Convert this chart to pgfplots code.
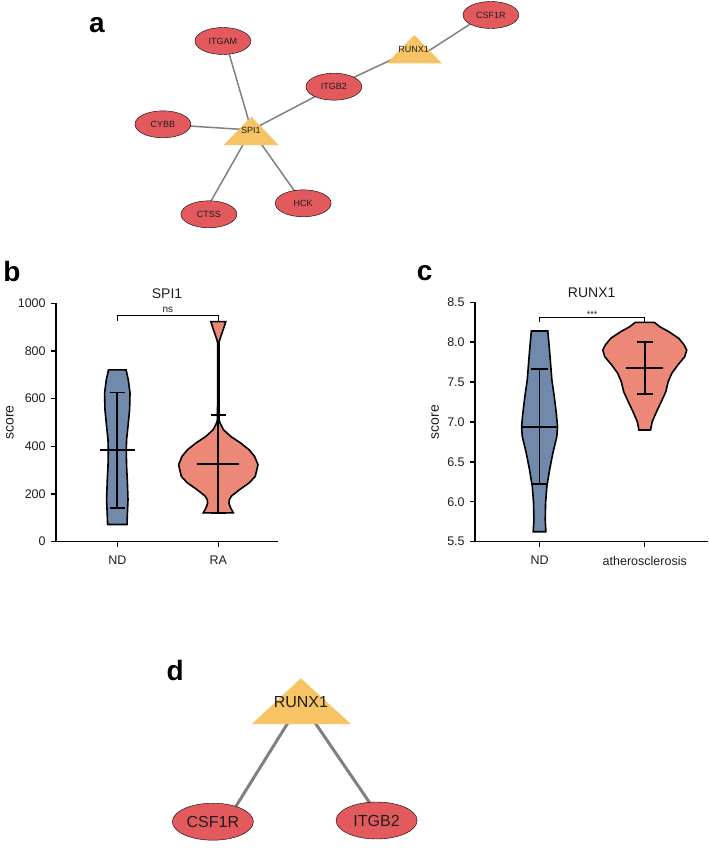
\documentclass[border=0pt]{standalone}
\usepackage{pgfplots}
\pgfplotsset{compat=1.18}
\usepackage{fontspec}
\setmainfont{Liberation Sans}
\definecolor{ell}{RGB}{227,90,94}
\definecolor{tri}{RGB}{246,196,100}
\definecolor{vblue}{RGB}{113,137,170}
\definecolor{vred}{RGB}{236,136,120}
\definecolor{edgec}{RGB}{128,128,128}
\definecolor{txt}{RGB}{30,30,30}
\pgfplotsset{
  netaxis/.style={at={(O)},anchor=south west,scale only axis,width=707pt,height=851pt,
    xmin=0,xmax=707,ymin=0,ymax=851,y dir=reverse,hide axis,clip=false},
  violin/.style={scale only axis,anchor=south west,axis lines*=left,
    axis line style={line width=1.5pt,black},tick align=outside,major tick length=5pt,
    tick style={black,line width=1.4pt},
    tick label style={font=\fontsize{12.5}{14}\selectfont,text=txt},
    xticklabel style={yshift=-6pt},yticklabel style={xshift=-2pt},clip=false},
  vline/.style={black,line width=1.7pt},
  vbody/.style={draw=black,line width=1.6pt},
}
\begin{document}
\begin{tikzpicture}[x=1pt,y=1pt]
\path (0,0) rectangle (707,851);
\coordinate (O) at (0,0);
\coordinate (B) at (54.3,309.3);
\coordinate (C) at (473.3,309.3);
% ---------------- network panels a and d ----------------
\begin{axis}[netaxis]
% edges panel a
\addplot[edgec,line width=1.5pt] coordinates {(249.5,130) (225,46)};
\addplot[edgec,line width=1.5pt] coordinates {(249.5,130) (161,124.3)};
\addplot[edgec,line width=1.5pt] coordinates {(249.5,130) (204,210)};
\addplot[edgec,line width=1.5pt] coordinates {(249.5,130) (301.3,203.3)};
\addplot[edgec,line width=1.5pt] coordinates {(249.5,130) (332,86.7)};
\addplot[edgec,line width=1.5pt] coordinates {(332,86.7) (412.5,49)};
\addplot[edgec,line width=1.5pt] coordinates {(425,52) (480,16.5)};
% edges panel d
\addplot[edgec,line width=3pt] coordinates {(299,702) (233,808)};
\addplot[edgec,line width=3pt] coordinates {(299,702) (370,806)};
% triangles
\addplot[fill=tri,draw=none] coordinates {(221.7,145) (249.5,116.7) (276.7,145)} --cycle;
\addplot[fill=tri,draw=none] coordinates {(385,63.3) (412.5,35) (440,63.3)} --cycle;
\addplot[fill=tri,draw=none] coordinates {(250,724) (299,678.3) (349,724)} --cycle;
% ellipses panel a
\addplot[only marks,mark=*,mark size=13.5pt,mark options={xscale=2.07,fill=ell,draw=none}]
  coordinates {(221,41) (489,15) (332,86.7) (161,124.3) (207,214.3) (301.3,203.3)};
% ellipses panel d
\addplot[only marks,mark=*,mark size=18.5pt,mark options={xscale=2.19,fill=ell,draw=none}]
  coordinates {(211,821.7) (374.7,820.5)};
\end{axis}
% labels on top of the network shapes
\begin{axis}[netaxis]
\begin{scope}[every node/.style={font=\fontsize{9}{10}\selectfont,text=txt}]
\node at (axis cs:221,41) {ITGAM};
\node at (axis cs:489,15) {CSF1R};
\node at (axis cs:332,86.7) {ITGB2};
\node at (axis cs:161,124.3) {CYBB};
\node at (axis cs:207,214.3) {CTSS};
\node at (axis cs:301.3,203.3) {HCK};
\node at (axis cs:249,130) {SPI1};
\node at (axis cs:411.7,49) {RUNX1};
\end{scope}
\begin{scope}[every node/.style={font=\fontsize{16}{18}\selectfont,text=txt}]
\node at (axis cs:299,701.7) {RUNX1};
\node at (axis cs:211,821.7) {CSF1R};
\node at (axis cs:374.7,820.5) {ITGB2};
\end{scope}
\begin{scope}[every node/.style={font=\fontsize{28}{30}\selectfont\bfseries}]
\node at (axis cs:95,25) {a};
\node at (axis cs:10,271.7) {b};
\node at (axis cs:422.7,273.3) {c};
\node at (axis cs:173.3,670) {d};
\end{scope}
\end{axis}
% ---------------- panel b ----------------
\begin{axis}[violin,at={(B)},width=221.7pt,height=238.4pt,
  xmin=-0.605,xmax=1.59,ymin=0,ymax=1000,
  xtick={0,1},xticklabels={ND,RA},
  ytick={0,200,400,600,800,1000},yticklabels={0,200,400,600,800,1000}]
\addplot[fill=vblue,vbody] coordinates {
(0.087,721) (0.109,679) (0.126,623) (0.122,554) (0.106,484) (0.092,428) (0.089,386)
(0.092,316) (0.099,261) (0.106,177) (0.099,107) (0.096,72)
(-0.096,72) (-0.099,107) (-0.106,177) (-0.099,261) (-0.092,316) (-0.089,386)
(-0.092,428) (-0.106,484) (-0.122,554) (-0.126,623) (-0.109,679) (-0.087,721)} --cycle;
\addplot[fill=vred,vbody] coordinates {
(1.074,923) (1.047,888) (1.013,846) (1.007,834) (1.007,700) (1.007,600) (1.008,512)
(1.017,498) (1.050,470) (1.122,442) (1.221,414) (1.304,386) (1.359,358) (1.393,323)
(1.366,274) (1.307,247) (1.213,219) (1.129,191) (1.109,175) (1.106,160) (1.124,140) (1.149,121)
(0.851,121) (0.876,140) (0.894,160) (0.891,175) (0.871,191) (0.787,219) (0.693,247) (0.634,274)
(0.607,323) (0.641,358) (0.696,386) (0.779,414) (0.878,442) (0.950,470) (0.983,498)
(0.992,512) (0.993,600) (0.993,700) (0.993,834) (0.987,846) (0.953,888) (0.926,923)} --cycle;
% ND summary
\addplot[vline] coordinates {(0,626) (0,142)};
\addplot[vline] coordinates {(-0.073,626) (0.073,626)};
\addplot[vline] coordinates {(-0.073,142) (0.073,142)};
\addplot[vline] coordinates {(-0.176,386) (0.176,386)};
% RA summary
\addplot[vline] coordinates {(1,531) (1,121)};
\addplot[vline] coordinates {(0.927,531) (1.073,531)};
\addplot[vline] coordinates {(0.927,121) (1.073,121)};
\addplot[vline] coordinates {(0.792,325) (1.208,325)};
% bracket
\addplot[black,line width=1.4pt] coordinates {(0,927) (0,948) (1,948) (1,927)};
\node[font=\fontsize{10}{12}\selectfont,text=txt] at (axis cs:0.5,972) {ns};
\node[font=\fontsize{14}{16}\selectfont,text=txt,anchor=base] at (rel axis cs:0.5,1) [yshift=5pt] {SPI1};
\node[xshift=-46.3pt,rotate=90,font=\fontsize{14}{16}\selectfont,text=txt] at (rel axis cs:0,0.5) {score};
\end{axis}
% ---------------- panel c ----------------
\begin{axis}[violin,at={(C)},width=233pt,height=239.4pt,
  xmin=-0.612,xmax=1.603,ymin=5.5,ymax=8.5,
  xtick={0,1},xticklabels={ND,atherosclerosis},
  ytick={5.5,6,6.5,7,7.5,8,8.5},yticklabels={5.5,6.0,6.5,7.0,7.5,8.0,8.5}]
\addplot[fill=vblue,vbody] coordinates {
(0.078,8.140) (0.086,8.029) (0.102,7.778) (0.117,7.527) (0.140,7.317) (0.159,7.109)
(0.171,6.941) (0.164,6.816) (0.126,6.608) (0.095,6.398) (0.069,6.189) (0.057,5.981)
(0.054,5.772) (0.060,5.625)
(-0.060,5.625) (-0.054,5.772) (-0.057,5.981) (-0.069,6.189) (-0.095,6.398) (-0.126,6.608)
(-0.164,6.816) (-0.171,6.941) (-0.159,7.109) (-0.140,7.317) (-0.117,7.527) (-0.102,7.778)
(-0.086,8.029) (-0.078,8.140)} --cycle;
\addplot[fill=vred,vbody] coordinates {
(1.090,8.249) (1.143,8.194) (1.228,8.132) (1.323,8.049) (1.375,7.965) (1.399,7.902)
(1.380,7.818) (1.314,7.714) (1.257,7.610) (1.223,7.505) (1.200,7.380) (1.157,7.254)
(1.112,7.129) (1.071,7.004) (1.055,6.900)
(0.945,6.900) (0.929,7.004) (0.888,7.129) (0.843,7.254) (0.800,7.380) (0.777,7.505)
(0.743,7.610) (0.686,7.714) (0.620,7.818) (0.601,7.902) (0.625,7.965) (0.677,8.049)
(0.772,8.132) (0.857,8.194) (0.910,8.249)} --cycle;
% ND summary
\addplot[vline] coordinates {(0,7.664) (0,6.223)};
\addplot[vline] coordinates {(-0.078,7.664) (0.078,7.664)};
\addplot[vline] coordinates {(-0.078,6.223) (0.078,6.223)};
\addplot[vline] coordinates {(-0.173,6.941) (0.173,6.941)};
% atherosclerosis summary
\addplot[vline] coordinates {(1,8.006) (1,7.347)};
\addplot[vline] coordinates {(0.922,8.006) (1.078,8.006)};
\addplot[vline] coordinates {(0.922,7.347) (1.078,7.347)};
\addplot[vline] coordinates {(0.826,7.673) (1.174,7.673)};
% bracket
\addplot[black,line width=1.4pt] coordinates {(0,8.257) (0,8.312) (1,8.312) (1,8.257)};
\node[font=\fontsize{9}{11}\selectfont,text=txt] at (axis cs:0.5,8.347) {***};
\node[font=\fontsize{14}{16}\selectfont,text=txt,anchor=base] at (rel axis cs:0.5,1) [yshift=5pt] {RUNX1};
\node[xshift=-40pt,rotate=90,font=\fontsize{14}{16}\selectfont,text=txt] at (rel axis cs:0,0.5) {score};
\end{axis}
\end{tikzpicture}
\end{document}
